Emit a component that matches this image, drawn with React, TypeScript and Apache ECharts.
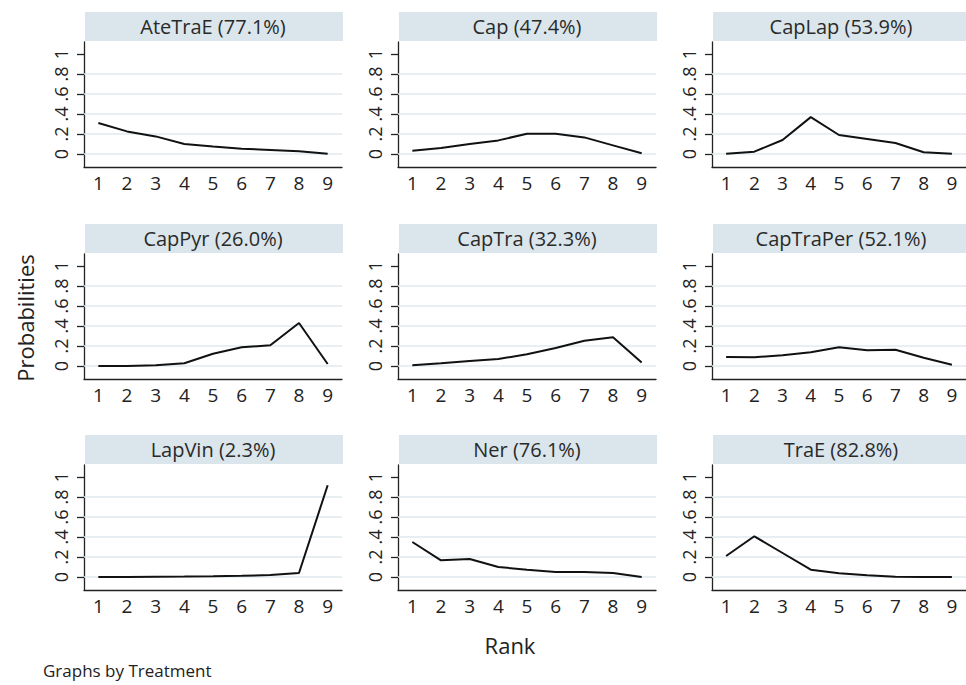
import React, { useEffect, useRef } from "react";
import * as echarts from "echarts";

const ranks = ["1", "2", "3", "4", "5", "6", "7", "8", "9"];
const yTicks = [0, 0.2, 0.4, 0.6, 0.8, 1];
const yTickLabels = ["0", ".2", ".4", ".6", ".8", "1"];
const gridValues = [0, 0.2, 0.4, 0.6, 0.8];

const treatments = [
  "AteTraE (77.1%)",
  "Cap (47.4%)",
  "CapLap (53.9%)",
  "CapPyr (26.0%)",
  "CapTra (32.3%)",
  "CapTraPer (52.1%)",
  "LapVin (2.3%)",
  "Ner (76.1%)",
  "TraE (82.8%)",
];

const ateTraE = [0.31, 0.226, 0.176, 0.1, 0.076, 0.053, 0.04, 0.027, 0.003];
const cap = [0.033, 0.06, 0.1, 0.136, 0.203, 0.203, 0.166, 0.086, 0.007];
const capLap = [0.002, 0.023, 0.14, 0.369, 0.19, 0.15, 0.11, 0.017, 0.002];
const capPyr = [0.0, 0.0, 0.007, 0.027, 0.123, 0.187, 0.207, 0.43, 0.02];
const capTra = [0.007, 0.027, 0.05, 0.07, 0.117, 0.18, 0.253, 0.287, 0.035];
const capTraPer = [0.09, 0.087, 0.107, 0.137, 0.187, 0.157, 0.163, 0.083, 0.013];
const lapVin = [0.0, 0.0, 0.002, 0.004, 0.007, 0.012, 0.02, 0.04, 0.917];
const ner = [0.35, 0.167, 0.18, 0.1, 0.073, 0.05, 0.05, 0.04, 0.0];
const traE = [0.21, 0.407, 0.24, 0.073, 0.037, 0.017, 0.003, 0.0, 0.0];

const seriesValues = [ateTraE, cap, capLap, capPyr, capTra, capTraPer, lapVin, ner, traE];

const FONT = "'Open Sans', 'Noto Sans', sans-serif";
const colLefts = [84, 398, 712];
const rowOffsets = [0, 212, 423];
const plotW = 258;
const plotTop = 42;
const plotH = 125;
const barTop = 12;
const barH = 29;

export default function App() {
  const ref = useRef<HTMLDivElement>(null);
  useEffect(() => {
    if (!ref.current) return;
    const chart = echarts.init(ref.current, undefined, { renderer: "svg" });
    const grids: any[] = [];
    const xAxes: any[] = [];
    const yAxes: any[] = [];
    const series: any[] = [];
    const graphics: any[] = [];
    seriesValues.forEach((vals, i) => {
      const r = Math.floor(i / 3);
      const c = i % 3;
      const left = colLefts[c];
      const top = plotTop + rowOffsets[r];
      grids.push({ left, top, width: plotW, height: plotH, containLabel: false });
      xAxes.push({
        type: "category",
        gridIndex: i,
        data: ranks,
        boundaryGap: true,
        axisLine: { onZero: false, lineStyle: { color: "#222", width: 1.3 } },
        axisTick: { alignWithLabel: true, length: 6, lineStyle: { color: "#222", width: 1.3 } },
        axisLabel: { fontSize: 19, color: "#222", margin: 6, fontFamily: FONT, interval: 0 },
        splitLine: { show: false },
      });
      yAxes.push({
        type: "value",
        gridIndex: i,
        min: -0.13,
        max: 1.12,
        axisLine: { show: true, lineStyle: { color: "#222", width: 1.3 } },
        axisTick: { show: true, length: 7, customValues: yTicks, lineStyle: { color: "#222", width: 1.3 } },
        axisLabel: {
          rotate: 90,
          customValues: yTicks,
          fontSize: 18,
          color: "#222",
          margin: 14,
          fontFamily: FONT,
          formatter: (v: number) => {
            const k = yTicks.findIndex((t) => Math.abs(t - v) < 1e-6);
            return k >= 0 ? yTickLabels[k] : "";
          },
        },
        splitLine: { show: false },
      });
      series.push({
        type: "line",
        xAxisIndex: i,
        yAxisIndex: i,
        data: [],
        z: 1,
        silent: true,
        markLine: {
          silent: true,
          z: 1,
          symbol: ["none", "none"],
          label: { show: false },
          lineStyle: { color: "#e0eaef", width: 1.6, type: "solid" },
          data: gridValues.map((v) => ({ yAxis: v })),
        },
      });
      series.push({
        type: "line",
        xAxisIndex: i,
        yAxisIndex: i,
        data: vals,
        symbol: "none",
        z: 3,
        lineStyle: { color: "#111", width: 2 },
      });
      graphics.push({
        type: "rect",
        shape: { x: left + 1, y: barTop + rowOffsets[r], width: plotW, height: barH },
        style: { fill: "#dae6ec" },
      });
      graphics.push({
        type: "text",
        x: left + plotW / 2,
        y: barTop + rowOffsets[r] + barH / 2,
        style: {
          text: treatments[i],
          fill: "#2a2a2a",
          font: `20px ${FONT}`,
          align: "center",
          verticalAlign: "middle",
        },
      });
    });
    graphics.push({
      type: "text",
      x: 25,
      y: 318,
      rotation: Math.PI / 2,
      style: { text: "Probabilities", fill: "#222", font: `22px ${FONT}`, align: "center", verticalAlign: "middle" },
    });
    graphics.push({
      type: "text",
      x: 510,
      y: 645,
      style: { text: "Rank", fill: "#222", font: `22px ${FONT}`, align: "center", verticalAlign: "middle" },
    });
    graphics.push({
      type: "text",
      x: 43,
      y: 670,
      style: { text: "Graphs by Treatment", fill: "#222", font: `17px ${FONT}`, align: "left", verticalAlign: "middle" },
    });

    chart.setOption({
      animation: false,
      backgroundColor: "#ffffff",
      grid: grids,
      xAxis: xAxes,
      yAxis: yAxes,
      series,
      graphic: graphics,
    });
    return () => chart.dispose();
  }, []);
  return (
    <div
      ref={ref}
      style={{ position: "absolute", left: 0, top: 0, width: 966, height: 685 }}
    />
  );
}
